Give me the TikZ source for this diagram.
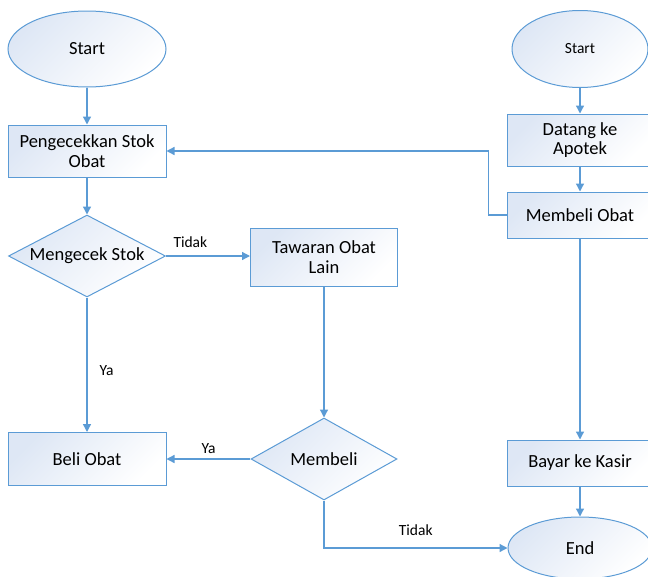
\documentclass[tikz,border=0pt]{standalone}
\usepackage{fontspec}
\setmainfont{Carlito}
\usetikzlibrary{shapes.geometric,arrows.meta}
\definecolor{lineblue}{RGB}{91,155,213}
\definecolor{fillblue}{RGB}{222,231,245}
\begin{document}
\begin{tikzpicture}[x=1pt,y=-1pt,
  box/.style={draw=lineblue, line width=1pt, top color=fillblue, bottom color=white, shading angle=45, align=center, font=\fontsize{18.5}{19.5}\selectfont, inner sep=2pt},
  oval/.style={box, ellipse},
  dec/.style={box, diamond, aspect=1.9, inner sep=0pt},
  flow/.style={draw=lineblue, line width=1.3pt, -{Triangle[width=8pt,length=8pt]}},
  lbl/.style={font=\fontsize{15.5}{17}\selectfont, inner sep=2pt}]
\useasboundingbox (0,0) rectangle (648,576);
\node[oval, minimum width=158pt, minimum height=76pt] (start1) at (87,49){Start};
\node[box, minimum width=158pt, minimum height=52pt] (cek) at (87,151){Pengecekkan Stok\\Obat};
\draw[flow](start1) -- (cek);
\node[dec, minimum width=157pt, minimum height=82pt] (stok) at (87,256){Mengecek Stok};
\draw[flow](cek) -- (stok);
\node[box, minimum width=147pt, minimum height=58pt] (tawar) at (324,257){Tawaran Obat\\Lain};
\draw[flow](stok) -- node[lbl, above, pos=.29, yshift=6pt]{Tidak} (stok.east -| tawar.west);
\node[box, minimum width=158pt, minimum height=53pt] (beli) at (87,459){Beli Obat};
\draw[flow](stok) -- node[lbl, right, pos=.54, xshift=10pt]{Ya} (beli);
\node[dec, minimum width=146pt, minimum height=82pt] (membeli) at (324,459){Membeli};
\draw[flow](tawar) -- (membeli);
\draw[flow](membeli) -- node[lbl, above, yshift=3pt]{Ya} (beli);
\node[oval, minimum width=136pt, minimum height=77pt, font=\fontsize{15.5}{17}\selectfont] (start2) at (580,49){Start};
\node[box, minimum width=146pt, minimum height=52pt] (datang) at (580,140){Datang ke\\Apotek};
\draw[flow](start2) -- (datang);
\node[box, minimum width=146pt, minimum height=46pt] (obat) at (580,215){Membeli Obat};
\draw[flow](datang) -- (obat);
\draw[flow](obat.west) -- ++(-18,0) |- (cek.east);
\node[box, minimum width=146pt, minimum height=46pt] (kasir) at (580,463){Bayar ke Kasir};
\draw[flow](obat) -- (kasir);
\node[oval, minimum width=144pt, minimum height=62pt] (end) at (580,548){End};
\draw[flow](kasir) -- (end);
\draw[flow](membeli.south) |- node[lbl, above, pos=.75, yshift=10pt]{Tidak} (end.west);

\end{tikzpicture}
\end{document}
